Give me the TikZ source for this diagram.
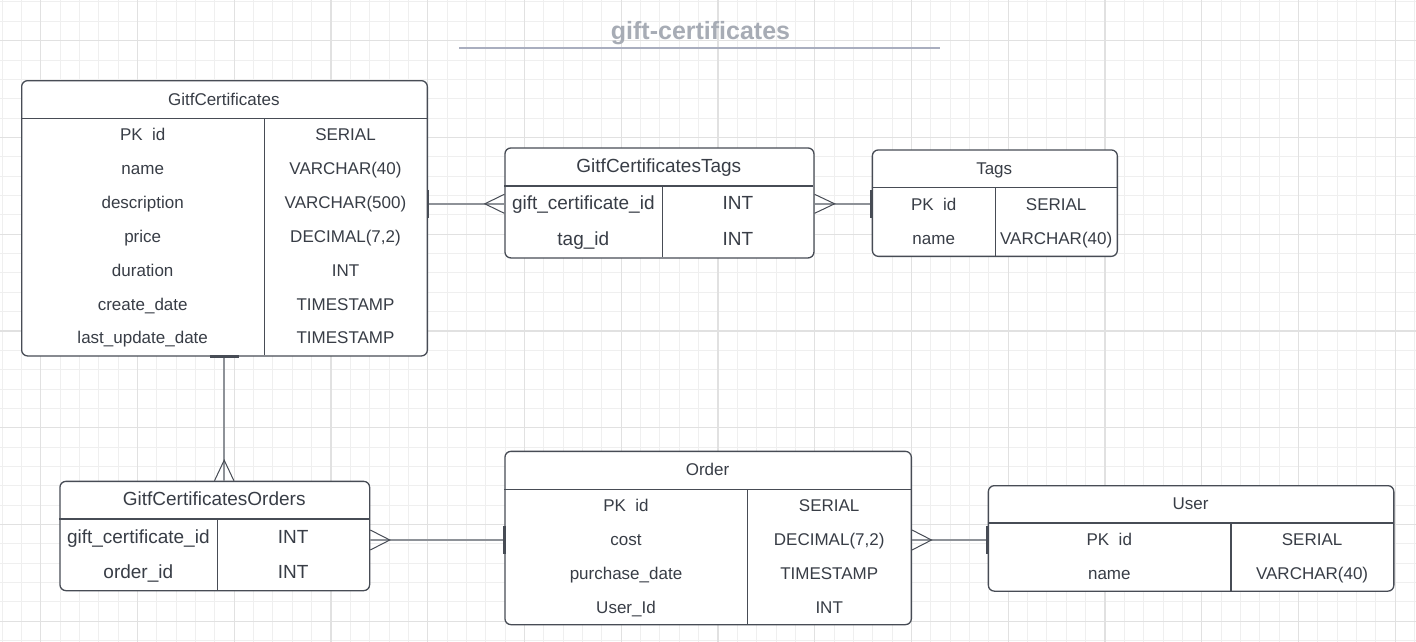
\documentclass[tikz,border=0pt]{standalone}
\usepackage{fontspec}
\setmainfont{Liberation Sans}
\definecolor{ink}{HTML}{383D46}
\definecolor{edge}{HTML}{474C55}
\definecolor{linkgray}{HTML}{8E9298}
\definecolor{gridminor}{HTML}{EFEFEF}
\definecolor{gridmajor}{HTML}{E1E1E1}
\definecolor{titlegray}{HTML}{A7ACB5}
\definecolor{titleline}{HTML}{A9AEBF}
\begin{document}
\begin{tikzpicture}[x=1pt,y=-1pt,
  tbox/.style={draw=edge, line width=1.3pt, rounded corners=6pt, inner sep=0pt, anchor=north west, fill=white},
  txt/.style={text=ink, inner sep=0pt, text height=12.2pt, text depth=0pt, font=\fontsize{17}{20}\selectfont},
  big/.style={text=ink, inner sep=0pt, text height=13.6pt, text depth=0pt, font=\fontsize{19}{22}\selectfont},
  divider/.style={draw=edge, line width=1.3pt},
  conn/.style={draw=linkgray, line width=1.5pt},
  foot/.style={draw=edge, line width=1pt},
  bar/.style={draw=edge, line width=2.6pt}]

% canvas and grid
\useasboundingbox (0,0) rectangle (1416,642);
\fill[white] (0,0) rectangle (1416,642);
\foreach \k in {0,...,73} \draw[gridminor, line width=1pt] (2+19.35*\k,0) -- (2+19.35*\k,642);
\foreach \k in {0,...,33} \draw[gridminor, line width=1pt] (0,2+19.35*\k) -- (1416,2+19.35*\k);
\foreach \k in {0,...,14} \draw[gridmajor, line width=1.2pt] (40.7+96.75*\k,0) -- (40.7+96.75*\k,642);
\foreach \k in {0,...,6} \draw[gridmajor, line width=1.2pt] (0,40.7+96.75*\k) -- (1416,40.7+96.75*\k);

% title
\node[text=titlegray, inner sep=0pt, text height=18pt, text depth=0pt, font=\bfseries\fontsize{25}{28}\selectfont] (title) at (700.5,30.5) {gift-certificates};
\draw[titleline, line width=2pt] (459,48) -- (940,48);

% GitfCertificates
\node[tbox, minimum width=405.7pt, minimum height=275.3pt] (gc) at (21,80) {};
\draw[divider] (21,118.3) -- (426.7,118.3) (264.3,118.3) -- (264.3,355.3);
\node[txt] (gc-h) at (223.8,99) {GitfCertificates};
\foreach \y/\a/\b [count=\k] in {134/{PK\ \ id}/SERIAL, 168/name/{VARCHAR(40)}, 202/description/{VARCHAR(500)},
    236/price/{DECIMAL(7,2)}, 270/duration/INT, 304/create\_date/TIMESTAMP, 337.5/last\_update\_date/TIMESTAMP}
  {\node[txt] (gc-a\k) at (142.7,\y) {\a}; \node[txt] (gc-b\k) at (345.5,\y) {\b};}

% GitfCertificatesTags
\node[tbox, minimum width=309pt, minimum height=110pt] (gct) at (504.3,147.3) {};
\draw[divider] (504.3,186) -- (813.3,186) (662.3,186) -- (662.3,257.3);
\node[big] (gct-h) at (658.8,166) {GitfCertificatesTags};
\foreach \y/\a/\b [count=\k] in {202.5/gift\_certificate\_id/INT, 238.5/tag\_id/INT}
  {\node[big] (gct-a\k) at (583.3,\y) {\a}; \node[big] (gct-b\k) at (737.8,\y) {\b};}

% Tags
\node[tbox, minimum width=245pt, minimum height=106.4pt] (tags) at (871.7,149.3) {};
\draw[divider] (871.7,187.7) -- (1116.7,187.7) (995.7,187.7) -- (995.7,255.7);
\node[txt] (tags-h) at (994.2,168) {Tags};
\foreach \y/\a/\b [count=\k] in {204/{PK\ \ id}/SERIAL, 238/name/{VARCHAR(40)}}
  {\node[txt] (tags-a\k) at (933.7,\y) {\a}; \node[txt] (tags-b\k) at (1056.2,\y) {\b};}

% GitfCertificatesOrders
\node[tbox, minimum width=309.7pt, minimum height=109.3pt] (gco) at (59.3,480.7) {};
\draw[divider] (59.3,519) -- (369,519) (217.3,519) -- (217.3,590);
\node[big] (gco-h) at (214.2,499) {GitfCertificatesOrders};
\foreach \y/\a/\b [count=\k] in {536.5/gift\_certificate\_id/INT, 571.5/order\_id/INT}
  {\node[big] (gco-a\k) at (138.3,\y) {\a}; \node[big] (gco-b\k) at (293.2,\y) {\b};}

% Order
\node[tbox, minimum width=406.4pt, minimum height=173.3pt] (ord) at (504.3,450.7) {};
\draw[divider] (504.3,489.3) -- (910.7,489.3) (747.7,489.3) -- (747.7,624);
\node[txt] (ord-h) at (707.5,469) {Order};
\foreach \y/\a/\b [count=\k] in {505.5/{PK\ \ id}/SERIAL, 539.5/cost/{DECIMAL(7,2)}, 573/purchase\_date/TIMESTAMP, 607/User\_Id/INT}
  {\node[txt] (ord-a\k) at (626,\y) {\a}; \node[txt] (ord-b\k) at (829.2,\y) {\b};}

% User
\node[tbox, minimum width=405.5pt, minimum height=105.5pt] (usr) at (987.7,485) {};
\draw[divider] (987.7,523) -- (1393.2,523) (1231,523) -- (1231,590.5);
\node[txt] (usr-h) at (1190.5,503.5) {User};
\foreach \y/\a/\b [count=\k] in {539.5/{PK\ \ id}/SERIAL, 573.5/name/{VARCHAR(40)}}
  {\node[txt] (usr-a\k) at (1109.3,\y) {\a}; \node[txt] (usr-b\k) at (1312.1,\y) {\b};}

% connector heights
\coordinate (r1) at (0,203.8);
\coordinate (r2) at (0,540);
\coordinate (c3) at (224.2,0);

% GitfCertificates -> GitfCertificatesTags
\draw[conn] (gc.east |- r1) -- (gct.west |- r1);
\draw[bar] (gc.east |- r1) ++(0,-14) -- ++(0,28);
\draw[foot] (gct.west |- r1) ++(0,-9.5) -- ++(-19.5,9.5) -- ++(19.5,9.5);

% Tags -> GitfCertificatesTags
\draw[conn] (gct.east |- r1) -- (tags.west |- r1);
\draw[bar] (tags.west |- r1) ++(0,-14) -- ++(0,28);
\draw[foot] (gct.east |- r1) ++(0,-9.5) -- ++(20,9.5) -- ++(-20,9.5);

% GitfCertificates -> GitfCertificatesOrders
\draw[conn] (gc.south -| c3) -- (gco.north -| c3);
\draw[bar] (gc.south -| c3) ++(-14.5,0) -- ++(29,0);
\draw[foot] (gco.north -| c3) ++(-9.7,0) -- ++(9.7,-20.5) -- ++(9.7,20.5);

% Order -> GitfCertificatesOrders
\draw[conn] (gco.east |- r2) -- (ord.west |- r2);
\draw[bar] (ord.west |- r2) ++(0,-14) -- ++(0,28);
\draw[foot] (gco.east |- r2) ++(0,-10) -- ++(19.5,10) -- ++(-19.5,10);

% User -> Order
\draw[conn] (ord.east |- r2) -- (usr.west |- r2);
\draw[bar] (usr.west |- r2) ++(0,-14) -- ++(0,28);
\draw[foot] (ord.east |- r2) ++(0,-10) -- ++(19.5,10) -- ++(-19.5,10);
\end{tikzpicture}
\end{document}
